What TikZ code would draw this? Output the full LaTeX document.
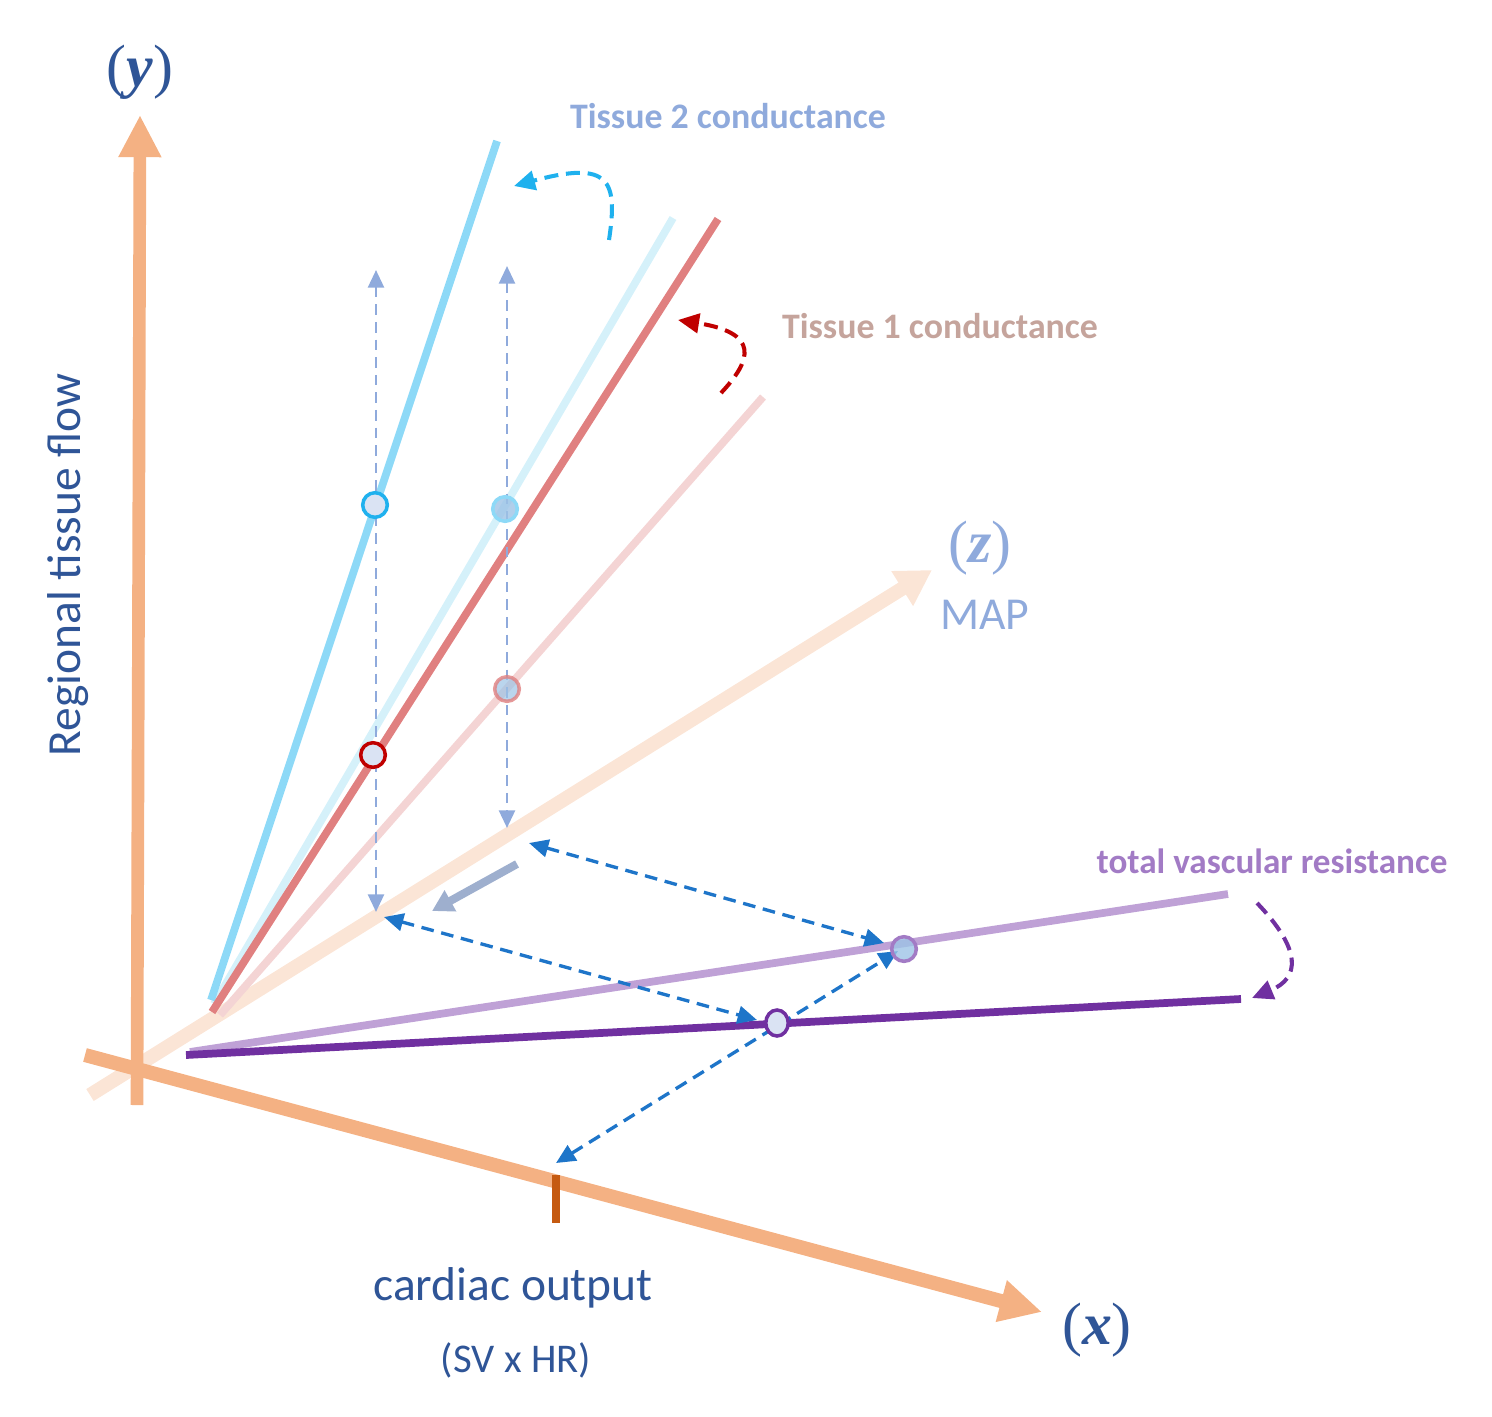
\documentclass[tikz,border=0pt]{standalone}
\usepackage{fontspec}
\setmainfont{Carlito}
\newfontfamily\varfont{Liberation Serif}
\usetikzlibrary{arrows.meta,shapes.geometric}

\definecolor{axisorange}{HTML}{F4B183}
\definecolor{axispeach}{HTML}{FBE5D6}
\definecolor{titleblue}{HTML}{2F5597}
\definecolor{softblue}{HTML}{8FAADC}
\definecolor{tissuetwo}{HTML}{8DD9F7}
\definecolor{tissuetwolight}{HTML}{D5F1FA}
\definecolor{tissueone}{HTML}{E08080}
\definecolor{tissueonelight}{HTML}{F4D4D4}
\definecolor{tvrlight}{HTML}{BFA1D6}
\definecolor{tvrdark}{HTML}{7030A0}
\definecolor{tissueonetext}{HTML}{C5A49C}
\definecolor{tvrtext}{HTML}{A27BC5}
\definecolor{linkblue}{HTML}{1E75C9}
\definecolor{tickbrown}{HTML}{C55A11}
\definecolor{turncyan}{HTML}{1FB1EE}
\definecolor{turnred}{HTML}{C00000}
\definecolor{slate}{HTML}{9EAFCE}
\definecolor{dotfill}{HTML}{DAE3F3}
\definecolor{dotblue}{HTML}{9DC3E6}

\tikzstyle{axis}=[line width=3.6pt, axisorange]
\tikzstyle{flowline}=[line width=2.2pt]
\tikzstyle{guide}=[%
	softblue, line width=0.8pt, dash pattern=on 3pt off 2pt,
	{Triangle[length=5pt,width=4.5pt]}-{Triangle[length=5pt,width=4.5pt]}
]
\tikzstyle{link}=[%
	linkblue, line width=0.95pt, dash pattern=on 3.6pt off 2.2pt,
	{Triangle[length=5.5pt,width=5pt]}-{Triangle[length=5.5pt,width=5pt]}
]
\tikzstyle{turn}=[%
	line width=1.15pt, dash pattern=on 4pt off 2.2pt,
	-{Triangle[length=6pt,width=5.5pt]}
]
\tikzstyle{opdot}=[%
	circle, inner sep=0pt, minimum size=7pt, line width=1pt
]

\begin{document}
\begin{tikzpicture}[x=0.01cm, y=-0.01cm]
	\useasboundingbox (0,0) rectangle (1492,1416);

	% Axes
	\draw[axispeach, line width=4pt, -{Triangle[length=10pt,width=11pt]}]
		(90,1095) -- (932,570);
	\draw[axis, -{Triangle[length=12pt,width=11.4pt]}] (137,1105) -- (140,115);
	\draw[axis, line width=4pt, -{Triangle[length=12pt,width=11.4pt]}]
		(85,1055) -- (1042,1312);
	\draw[tickbrown, line width=2pt] (556,1175) -- (556,1223);

	% Conductance and resistance lines
	\draw[flowline, tissueonelight] (220,1015) -- (763,397);
	\draw[flowline, tissuetwolight] (214,1004) -- (673,218);
	\draw[flowline, tissuetwo] (211,1000) -- (497,141);
	\draw[flowline, tissueone] (212,1012) -- (718,219);
	\draw[flowline, tvrlight] (190,1052) -- (1228,894);
	\draw[flowline, tvrdark] (186,1055) -- (1241,999);

	% Guides
	\coordinate (gonetop) at (376,270);
	\coordinate (gonebot) at (376,912);
	\coordinate (gtwotop) at (507,266);
	\coordinate (gtwobot) at (507,828);
	\draw[guide] (gonetop) -- (gonebot);
	\draw[guide] (gtwotop) -- (gtwobot);

	\coordinate (mapa) at (529,843);
	\coordinate (tvra) at (884,943);
	\coordinate (mapb) at (384,917);
	\coordinate (tvrb) at (757,1020);
	\coordinate (coa) at (556,1163);
	\coordinate (tvrc) at (898,951);
	\draw[link] (mapa) -- (tvra);
	\draw[link] (mapb) -- (tvrb);
	\draw[link] (coa) -- (tvrc);

	\coordinate (slatefrom) at (517,864);
	\coordinate (slateto) at (432,911);
	\draw[slate, line width=2.3pt, -{Triangle[length=6pt,width=6.5pt]}]
		(slatefrom) -- (slateto);

	% Points
	\node[opdot, draw=turncyan, fill=dotfill] (ptwoa) at (375,505) {};
	\node[opdot, draw=tissuetwo, fill=dotblue, fill opacity=0.8] (ptwob) at (505,509) {};
	\node[opdot, draw=tissueone, draw opacity=0.8, fill=dotblue, fill opacity=0.7] (poneb) at (507,689) {};
	\node[opdot, draw=turnred, fill=dotfill] (ponea) at (373,755) {};
	\node[opdot, draw=tvrtext, fill=dotblue, fill opacity=0.8] (ptvrb) at (904,949) {};
	\node[opdot, ellipse, draw=tvrdark, fill=dotfill, minimum width=6.4pt, minimum height=7.4pt] (ptvra) at (777,1023) {};

	% Turns
	\draw[turn, turncyan] (609,240) .. controls (618,180) and (610,160) .. (514,186);
	\draw[turn, turnred] (721,393) .. controls (752,360) and (760,333) .. (678,320);
	\draw[turn, tvrdark] (1257,903) .. controls (1302,950) and (1300,978) .. (1252,998);

	% Labels
	\node[titleblue, font=\varfont\fontsize{17}{17}\selectfont] (ylab) at (140,72) {(\textbf{\textit{y}})};
	\node[titleblue, font=\varfont\fontsize{17}{17}\selectfont] (xlab) at (1097,1330) {(\textbf{\textit{x}})};
	\node[softblue, font=\varfont\fontsize{17}{17}\selectfont] (zlab) at (980,548) {(\textbf{\textit{z}})};
	\node[softblue, font=\fontsize{13}{13}\selectfont] (maplab) at (985,615) {MAP};
	\node[titleblue, rotate=90, font=\fontsize{13.5}{13.5}\selectfont] (flowlab) at (68,565) {Regional tissue flow};
	\node[titleblue, font=\fontsize{13.5}{13.5}\selectfont] (colab) at (513,1288) {cardiac output};
	\node[titleblue, font=\fontsize{11.6}{11.6}\selectfont] (svhrlab) at (516,1360) {(SV x HR)};
	\node[softblue, font=\bfseries\fontsize{10.2}{10.2}\selectfont] (twolab) at (728,116) {Tissue 2 conductance};
	\node[tissueonetext, font=\bfseries\fontsize{10.2}{10.2}\selectfont] (onelab) at (940,326) {Tissue 1 conductance};
	\node[tvrtext, font=\bfseries\fontsize{10}{10}\selectfont] (tvrlab) at (1272,861) {total vascular resistance};

\end{tikzpicture}
\end{document}
